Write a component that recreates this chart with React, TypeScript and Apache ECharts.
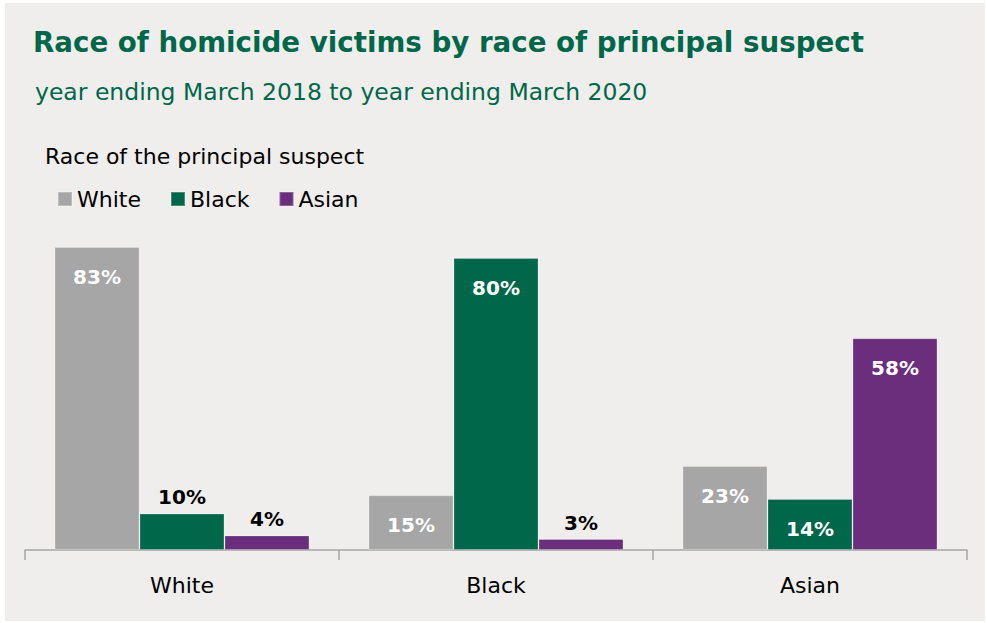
import React, { useEffect, useRef } from "react";
import * as echarts from "echarts";

const categories = ["White", "Black", "Asian"];
const seriesNames = ["White", "Black", "Asian"];
const whiteSuspect = [83, 15, 23];
const blackSuspect = [10, 80, 14];
const asianSuspect = [4, 3, 58];
const colors = ["#a6a6a6", "#00674a", "#6a2e7c"];

const FONT = "'DejaVu Sans', sans-serif";

function buildData(values: number[]) {
  return values.map((v) => {
    const inside = v >= 12;
    return {
      value: v,
      label: inside
        ? { position: "insideTop", distance: 20, color: "#ffffff" }
        : { position: "top", distance: 6, color: "#000000" },
    };
  });
}

export default function App() {
  const ref = useRef<HTMLDivElement>(null);
  useEffect(() => {
    if (!ref.current) return;
    const chart = echarts.init(ref.current, null, { renderer: "svg" });
    const all = [whiteSuspect, blackSuspect, asianSuspect];
    chart.setOption({
      animation: false,
      backgroundColor: "#ffffff",
      graphic: [
        {
          type: "rect",
          shape: { x: 5, y: 3, width: 980, height: 618 },
          style: { fill: "#efeeec" },
          z: -10,
        },
        {
          type: "text",
          left: 33,
          top: 28,
          style: {
            text: "Race of homicide victims by race of principal suspect",
            font: `bold 27.7px ${FONT}`,
            fill: "#00674a",
          },
        },
        {
          type: "text",
          left: 35,
          top: 80,
          style: {
            text: "year ending March 2018 to year ending March 2020",
            font: `23.5px ${FONT}`,
            fill: "#00674a",
          },
        },
        {
          type: "text",
          left: 45,
          top: 145,
          style: {
            text: "Race of the principal suspect",
            font: `22px ${FONT}`,
            fill: "#000000",
          },
        },
      ],
      legend: {
        left: 57,
        top: 188,
        padding: 0,
        itemWidth: 14,
        itemHeight: 14,
        itemGap: 29,
        icon: "rect",
        textStyle: { fontFamily: FONT, fontSize: 22, color: "#000000" },
        data: seriesNames,
      },
      grid: { left: 25, right: 20, top: 247, bottom: 73, containLabel: false },
      xAxis: {
        type: "category",
        data: categories,
        axisLine: { lineStyle: { color: "#a6a6a6", width: 1.5 } },
        axisTick: { show: true, length: 10, lineStyle: { color: "#a6a6a6", width: 1.5 } },
        axisLabel: { fontFamily: FONT, fontSize: 22, color: "#000000", margin: 24 },
      },
      yAxis: { type: "value", min: 0, max: 83, show: false, splitLine: { show: false } },
      series: all.map((vals, i) => ({
        type: "bar",
        name: seriesNames[i],
        data: buildData(vals),
        barGap: "0%",
        barCategoryGap: "18.8%",
        itemStyle: { color: colors[i], borderColor: "rgba(255,255,255,0.25)", borderWidth: 1 },
        label: {
          show: true,
          formatter: "{c}%",
          fontFamily: FONT,
          fontWeight: "bold",
          fontSize: 20,
        },
      })),
    });
    return () => chart.dispose();
  }, []);
  return (
    <div
      ref={ref}
      style={{ position: "fixed", left: 0, top: 0, width: 987, height: 623 }}
    />
  );
}
